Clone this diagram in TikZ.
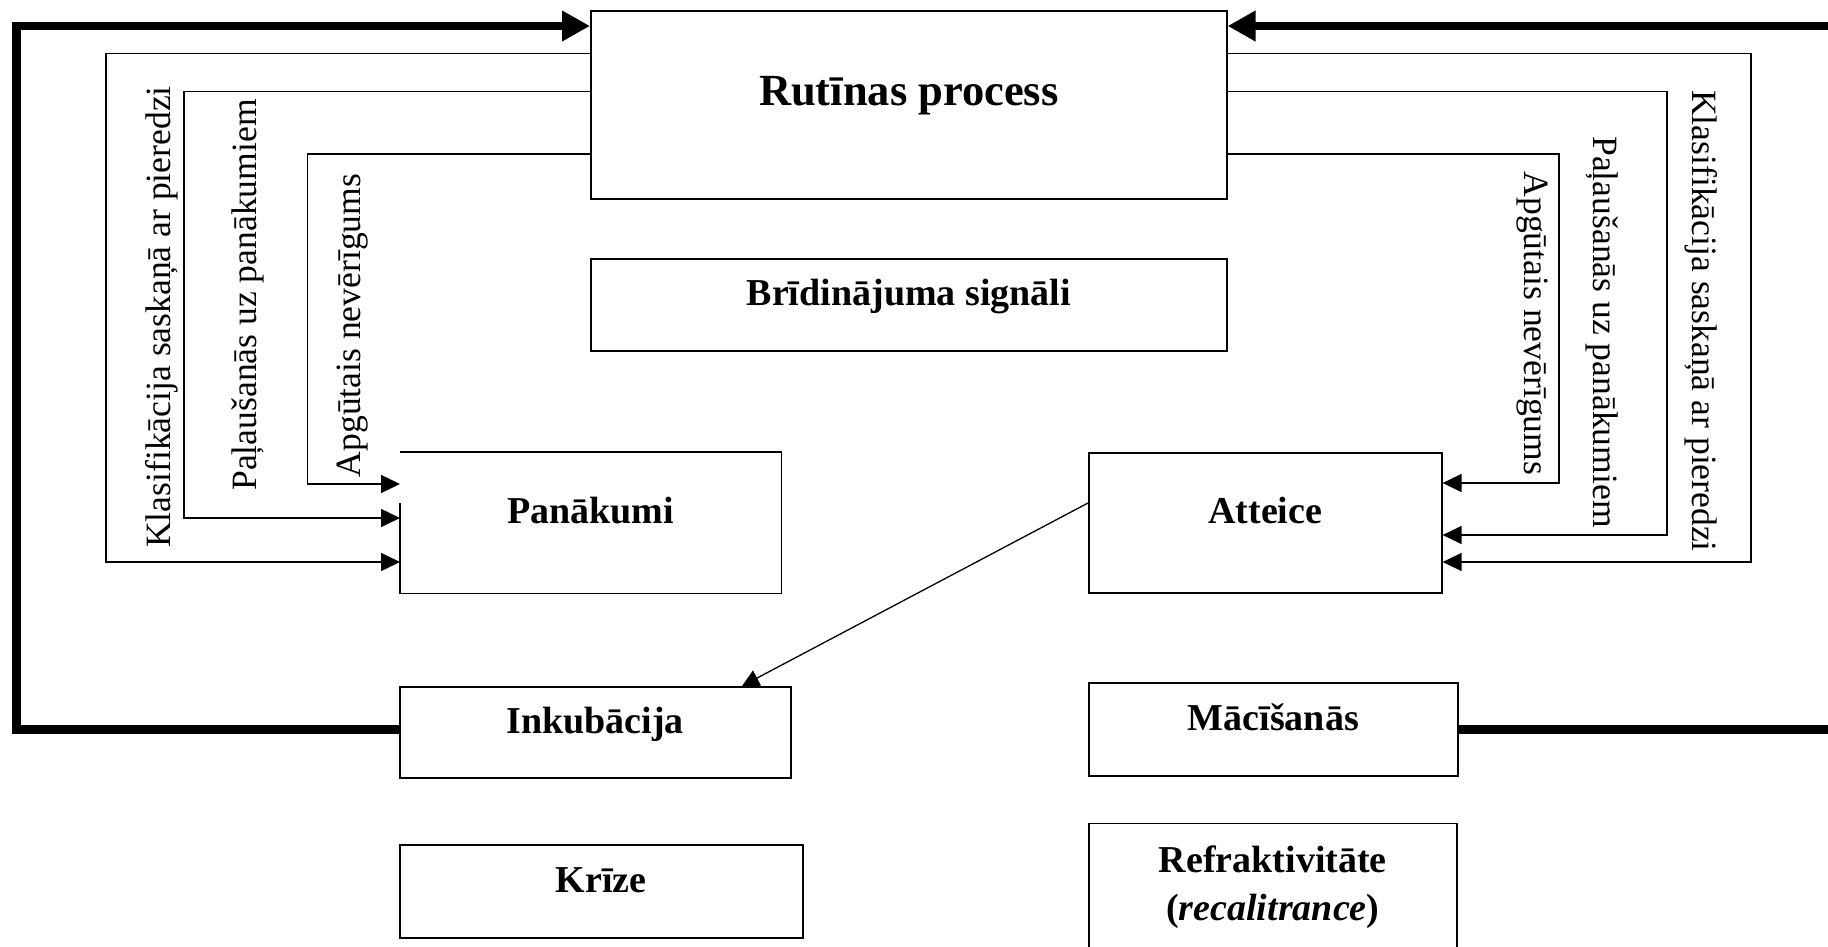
\documentclass[tikz,border=0pt]{standalone}
\usepackage{fontspec}
\setmainfont{Liberation Serif}
\usetikzlibrary{arrows.meta}
\begin{document}
\begin{tikzpicture}[x=1pt,y=-1pt,
  box/.style={rectangle, draw, line width=1.6pt, inner sep=0pt, anchor=north west,
    font=\bfseries\fontsize{38}{48}\selectfont, text height=24pt, text depth=22pt},
  bigbox/.style={box, font=\bfseries\fontsize{44.5}{52}\selectfont},
  sidelbl/.style={inner sep=0pt, anchor=base, font=\fontsize{35.6}{40}\selectfont},
  fb/.style={line width=1.5pt, -{Triangle[length=19pt,width=18pt]}},
  loop/.style={line width=8.5pt, -{Triangle[length=28pt,width=29pt]}},
  link/.style={line width=1.3pt, -{Triangle[length=17pt,width=17pt]}}
]
\useasboundingbox (0,0) rectangle (1828,947);
\clip (0,0) rectangle (1828,947);

% stages of the process
\node[bigbox, minimum width=636pt, minimum height=188pt] (rut) at (590,10) {Rutīnas process};
\node[box, minimum width=636pt, minimum height=92pt] (bri) at (590,258) {Brīdinājuma signāli};
\node[box, draw=none, minimum width=380pt, minimum height=140pt] (pan) at (400,452) {Panākumi};
\node[box, minimum width=353pt, minimum height=140pt] (att) at (1088,452) {Atteice};
\node[box, minimum width=391pt, minimum height=91pt] (inc) at (399,686) {Inkubācija};
\node[box, minimum width=403pt, minimum height=93pt] (kri) at (399,844) {Krīze};
\node[box, minimum width=369pt, minimum height=93pt] (mac) at (1088,682) {Mācīšanās};
\node[box, text height=, text depth=, align=center, minimum width=368pt, minimum height=128pt]
  (ref) at (1088,822.5) {Refraktivitāte\\(\textit{recalitrance})};

% outline of the Panākumi box, open at the top of its left side
\draw[line width=1.6pt] (pan.west |- 0,503) -- (pan.south west) -- (pan.south east)
  -- (pan.north east) -- (pan.north west);

% feedback loops on the left
\draw[fb] (rut.west |- 0,53.3) -| (106,562) -- (pan.west |- 0,562);
\draw[fb] (rut.west |- 0,91.7) -| (184,518) -- (pan.west |- 0,518);
\draw[fb] (rut.west |- 0,154) -| (307.6,484) -- (pan.west |- 0,484);

% feedback loops on the right
\draw[fb] (rut.east |- 0,53.3) -| (1751,562) -- (att.east |- 0,562);
\draw[fb] (rut.east |- 0,91.7) -| (1667,535) -- (att.east |- 0,535);
\draw[fb] (rut.east |- 0,154) -| (1559,483) -- (att.east |- 0,483);

% loop labels
\node[sidelbl, rotate=90] (kl) at (170,317) {Klasifikācija saskaņā ar pieredzi};
\node[sidelbl, rotate=90] (pl) at (256,295) {Paļaušanās uz panākumiem};
\node[sidelbl, rotate=90] (al) at (360,325.5) {Apgūtais nevērīgums};
\node[sidelbl, rotate=-90] (kr) at (1692.4,321) {Klasifikācija saskaņā ar pieredzi};
\node[sidelbl, rotate=-90] (pr) at (1593.5,332) {Paļaušanās uz panākumiem};
\node[sidelbl, rotate=-90] (ar) at (1524.3,323.4) {Apgūtais nevērīgums};

% return paths back to the routine process
\coordinate (lt) at (16.5,26);
\coordinate (rt) at (1870,26);
\draw[loop] (inc.west |- 0,729.3) -| (lt) -- (rut.west |- lt);
\draw[loop] (mac.east |- 0,729.3) -| (rt) -- (rut.east |- rt);

% from Atteice down to Inkubācija
\draw[link] (att.west |- 0,503) -- (742,0 |- inc.north);
\end{tikzpicture}
\end{document}
